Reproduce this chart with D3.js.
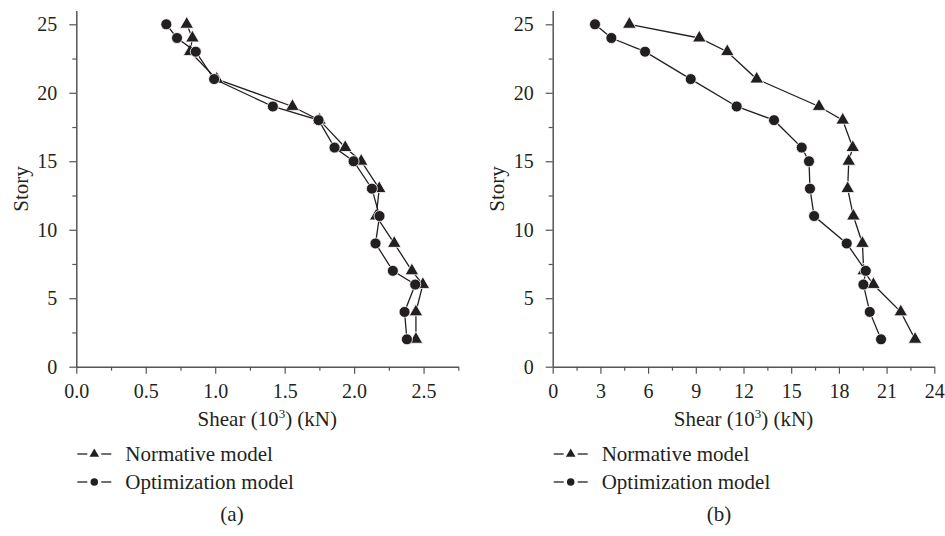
<!DOCTYPE html>
<html>
<head>
<meta charset="utf-8">
<script src="https://cdn.jsdelivr.net/npm/d3@7"></script>
<style>
  body { margin: 0; background: #fff; }
  svg text { font-family: "Liberation Serif", "DejaVu Serif", serif; fill: #231f20; }
</style>
</head>
<body>
<div id="chart"></div>
<script>
// story levels shared by both panels
const stories = [25, 24, 23, 21, 19, 18, 16, 15, 13, 11, 9, 7, 6, 4, 2];

// panel (a) shear, 10^3 kN
const normA = [0.795, 0.836, 0.819, 1.011, 1.556, 1.751, 1.936, 2.051, 2.181, 2.159, 2.289, 2.416, 2.495, 2.445, 2.445];
const optA  = [0.648, 0.725, 0.860, 0.992, 1.415, 1.744, 1.859, 1.996, 2.128, 2.183, 2.154, 2.279, 2.440, 2.363, 2.380];

// panel (b) shear, 10^3 kN
const normB = [4.82, 9.22, 10.98, 12.83, 16.75, 18.24, 18.87, 18.62, 18.55, 18.91, 19.48, 19.56, 20.17, 21.89, 22.79];
const optB  = [2.66, 3.69, 5.81, 8.68, 11.57, 13.92, 15.66, 16.12, 16.18, 16.44, 18.49, 19.69, 19.54, 19.94, 20.65];

const xTicksA = [0, 0.5, 1.0, 1.5, 2.0, 2.5];
const xMinorA = [0.25, 0.75, 1.25, 1.75, 2.25, 2.75];
const xTicksB = [0, 3, 6, 9, 12, 15, 18, 21, 24];
const xMinorB = [1.5, 4.5, 7.5, 10.5, 13.5, 16.5, 19.5, 22.5];
const yTicks = [0, 5, 10, 15, 20, 25];
const yMinor = [2.5, 7.5, 12.5, 17.5, 22.5];

const seriesNames = ['Normative model', 'Optimization model'];

const ink = '#231f20';
const axisColor = '#555';

const svg = d3.select('#chart').append('svg')
    .attr('width', 945)
    .attr('height', 536);

const yScale = d3.scaleLinear().domain([0, 26]).range([366.7, 10.6]);

function drawPanel(cfg) {
    const g = svg.append('g');
    const x = d3.scaleLinear().domain(cfg.xDomain).range(cfg.xRange);

    // minor ticks first, then major axis on top
    g.append('g')
        .attr('transform', `translate(0,${yScale(0)})`)
        .call(d3.axisBottom(x).tickValues(cfg.xMinor).tickSize(4).tickFormat(''))
        .call(a => a.select('.domain').remove());
    g.append('g')
        .attr('transform', `translate(${x(0)},0)`)
        .call(d3.axisLeft(yScale).tickValues(yMinor).tickSize(4).tickFormat(''))
        .call(a => a.select('.domain').remove());

    g.append('g')
        .attr('transform', `translate(0,${yScale(0)})`)
        .call(d3.axisBottom(x).tickValues(cfg.xTicks).tickSize(7).tickPadding(10)
            .tickFormat(cfg.xFormat).tickSizeOuter(0));
    g.append('g')
        .attr('transform', `translate(${x(0)},0)`)
        .call(d3.axisLeft(yScale).tickValues(yTicks).tickSize(7).tickPadding(12).tickSizeOuter(0));

    g.selectAll('.domain').attr('stroke', axisColor).attr('stroke-width', 1.5);
    g.selectAll('.tick line').attr('stroke', axisColor).attr('stroke-width', 1.2);
    g.selectAll('.tick text')
        .style('font-family', '"Liberation Serif", serif')
        .style('font-size', '20px')
        .attr('fill', ink);

    // axis titles
    const xMid = (cfg.xRange[0] + cfg.xRange[1]) / 2;
    const title = g.append('text')
        .attr('x', xMid)
        .attr('y', 426)
        .attr('text-anchor', 'middle')
        .style('font-size', '21px');
    title.append('tspan').text('Shear (10');
    title.append('tspan').text('3').attr('dy', -8).style('font-size', '13px');
    title.append('tspan').text(') (kN)').attr('dy', 8);

    g.append('text')
        .attr('transform', `translate(${x(0) - 56},189) rotate(-90)`)
        .attr('text-anchor', 'middle')
        .attr('dy', '0.35em')
        .style('font-size', '21px')
        .text('Story');

    // data lines and markers
    const line = d3.line().x(d => x(d[0])).y(d => yScale(d[1]));
    const series = [
        { vals: cfg.norm, sym: d3.symbolTriangle, size: 80 },
        { vals: cfg.opt, sym: d3.symbolCircle, size: 95 }
    ];
    series.forEach(s => {
        const pts = s.vals.map((v, i) => [v, stories[i]]);
        g.append('path')
            .datum(pts)
            .attr('fill', 'none')
            .attr('stroke', ink)
            .attr('stroke-width', 1.3)
            .attr('d', line);
        g.selectAll(null)
            .data(pts)
            .enter().append('path')
            .attr('transform', d => `translate(${x(d[0])},${yScale(d[1])})`)
            .attr('d', d3.symbol().type(s.sym).size(s.size))
            .attr('fill', ink)
            .attr('stroke', '#fff')
            .attr('stroke-width', 0.8);
    });

    // legend
    const lx = x(0) + 1;
    [0, 1].forEach(i => {
        const ly = 454 + i * 28;
        const lg = g.append('g');
        lg.append('line').attr('x1', lx).attr('x2', lx + 10).attr('y1', ly).attr('y2', ly)
            .attr('stroke', ink).attr('stroke-width', 1.3);
        lg.append('line').attr('x1', lx + 24).attr('x2', lx + 34).attr('y1', ly).attr('y2', ly)
            .attr('stroke', ink).attr('stroke-width', 1.3);
        lg.append('path')
            .attr('transform', `translate(${lx + 17},${ly})`)
            .attr('d', d3.symbol().type(series[i].sym).size(i === 0 ? 40 : 44))
            .attr('fill', ink);
        lg.append('text')
            .attr('x', lx + 48)
            .attr('y', ly + 7)
            .style('font-size', '21px')
            .text(seriesNames[i]);
    });

    g.append('text')
        .attr('x', cfg.labelX)
        .attr('y', 521)
        .attr('text-anchor', 'middle')
        .style('font-size', '21px')
        .text(cfg.label);
}

drawPanel({
    xDomain: [0, 2.75], xRange: [76.3, 458.3],
    xTicks: xTicksA, xMinor: xMinorA, xFormat: d3.format('.1f'),
    norm: normA, opt: optA, label: '(a)', labelX: 232
});

drawPanel({
    xDomain: [0, 24], xRange: [552.7, 934.3],
    xTicks: xTicksB, xMinor: xMinorB, xFormat: d3.format('d'),
    norm: normB, opt: optB, label: '(b)', labelX: 719
});
</script>
</body>
</html>
